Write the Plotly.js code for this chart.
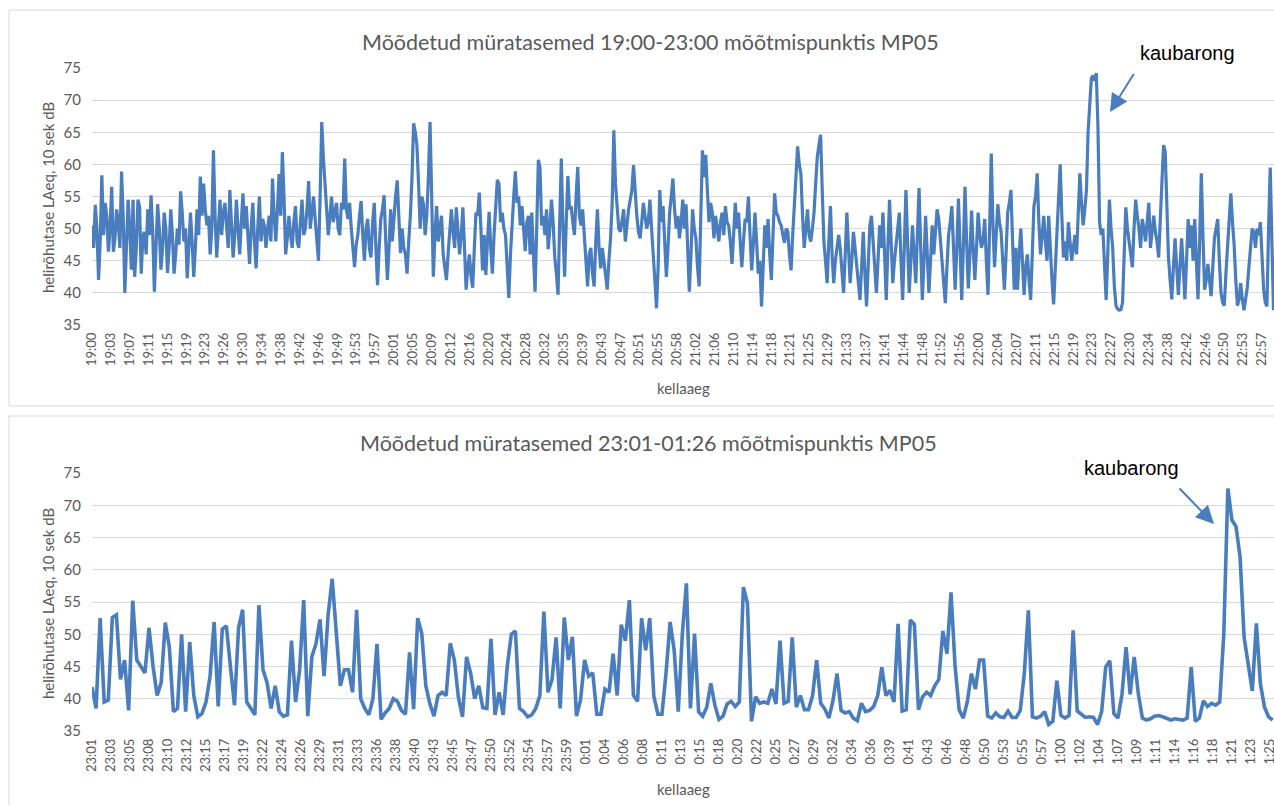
<!DOCTYPE html>
<html><head><meta charset="utf-8">
<script src="https://cdn.plot.ly/plotly-3.0.1.min.js"></script>
<style>html,body{margin:0;padding:0;background:#fff}#chart{width:1274px;height:805px}</style>
</head><body><div id="chart"></div>
<script>
const topTitle = 'Mõõdetud müratasemed 19:00-23:00 mõõtmispunktis MP05';
const bottomTitle = 'Mõõdetud müratasemed 23:01-01:26 mõõtmispunktis MP05';
const yTitleText = 'helirõhutase LAeq, 10 sek dB';
const xTitleText = 'kellaaeg';
const noteText = 'kaubarong';

const topTickLabels = ['19:00','19:03','19:07','19:11','19:15','19:19','19:23','19:26','19:30','19:34','19:38','19:42','19:46','19:49','19:53','19:57','20:01','20:05','20:09','20:12','20:16','20:20','20:24','20:28','20:32','20:35','20:39','20:43','20:47','20:51','20:55','20:58','21:02','21:06','21:10','21:14','21:18','21:21','21:25','21:29','21:33','21:37','21:41','21:44','21:48','21:52','21:56','22:00','22:04','22:07','22:11','22:15','22:19','22:23','22:27','22:30','22:34','22:38','22:42','22:46','22:50','22:53','22:57'];
const bottomTickLabels = ['23:01','23:03','23:05','23:08','23:10','23:12','23:15','23:17','23:19','23:22','23:24','23:26','23:29','23:31','23:33','23:36','23:38','23:40','23:43','23:45','23:47','23:50','23:52','23:54','23:57','23:59','0:01','0:04','0:06','0:08','0:11','0:13','0:15','0:18','0:20','0:22','0:25','0:27','0:29','0:32','0:34','0:36','0:39','0:41','0:43','0:46','0:48','0:50','0:53','0:55','0:57','1:00','1:02','1:04','1:07','1:09','1:11','1:14','1:16','1:18','1:21','1:23','1:25'];

// LAeq 10 s levels (dB), 19:00:00 - 23:00:00, readings at 0 s, 40 s, 80 s ...
const topLevels = [
50.5,53.7,42,58.3,54,46.4,56.5,48.5,51,58.9,
40,54.5,43.6,42.5,54.5,43,49.5,53,55.2,40.2,
53.8,43.6,52.5,43.1,53,43,50,55.8,48,42.3,
52.5,42.5,53,58.1,57,50.5,46,62.2,45.5,54.5,
52.5,50,56,45.5,54.5,46,55.5,53.5,44.5,54,
43.8,55,51.5,47,52,57.8,48,58.5,61.9,46,
52,47,53.5,47,54.5,50,57.4,53,51.5,45,
66.6,57.5,49,55,52.5,50,54,60.9,51.5,50,
44,49,54.3,45,51.5,45.5,54,41.2,51.5,55.2,
42,53,52.5,57.5,46.2,47,43,52,66.4,63,
50,53.8,52,66.6,42.5,53.5,50.3,46,42,50.5,
49.5,53.3,46,53.3,40.5,46,40.8,52.5,55.6,43.5,
42.8,52.6,43,54.3,57,52.5,49,39.2,51.5,58.9,
55,53.5,46.5,52,52.5,40.2,60.7,50.5,49,46.8,
54.5,45.5,39.7,60.9,42.5,58.2,53.5,49,59.6,50.5,
48.5,41,47,41,53,43.8,45,40.5,48.5,65.3,
53.5,49.5,53,51,54.5,59.9,52,48.5,54,50,
54.5,46.5,37.6,56,53.5,42.5,52.5,57.8,50,48.5,
54.5,53.8,40.2,53,48.5,41,62.2,61.5,51,52.5,
52,48,52.5,53.5,50.5,44.5,54,52.5,44,51.5,
55,43.5,52.5,43,37.9,50.5,51.5,42,55.5,52,
50.5,47.8,49.6,43.5,54,62.8,58.5,47,53,48,
52.5,61.2,64.6,48,41.5,53.5,41.5,47,46.8,40,
52.5,41.5,49.5,44.5,38.9,49.5,37.9,50.5,48,40,
50.5,52.5,38.9,54.5,41.5,47.5,52.5,38.9,56,40,
50.5,41.5,56.3,38.9,52,40,50.5,49,51.5,46,
38.4,49,53.5,40.5,54.7,38.9,56.5,40.7,52.8,42,
52.5,47,51.5,39.7,61.7,44,53.8,49.5,40.5,52.5,
56,40.5,40.5,50,39.7,46,38.9,53.5,58.6,46,
52,45,46.5,38.2,50,60,45.5,45,47.5,47,
46,58.6,50.5,56,70,73.8,74.2,51,50,38.9,
54.5,47,38,37.3,38.5,53.3,47.7,44,54.5,50,
51.5,48,54,49.7,49.5,45.5,58,62,45.5,39,
48.5,39.7,48.5,39,51.5,50.5,51.5,39,58.6,40.5,
44.5,39.5,48.5,51.5,40,38,47.5,55.5,47.5,38,
41.5,37.3,40.8,47.5,49.5,50,51,40.5,37.9,59.5,37.3
];
// readings in between, at 20 s, 60 s, 100 s ...
const topLevelsMid = [
47,50,48,49,52,50,46.4,53,47,52,
47,50,54.5,47,53.4,48.8,46,49,49.3,47,
50,47,50,47,49,46,47.5,52.4,50,47,
48,47,49,52,53,52,50,52,50,49,
54,47,51,49,50,51,50,49,50,48,
50,48,50.5,50,48,52,53,52,55,48.5,
49,51,48,51,49,53,50,55,48,55,
61,53,52,51,54,49,53,53,54,47,
47.5,52,49,50,47,51,47,47,53,48,
47,48,55,52,50,46,48,58,65,57,
55,49,58,55,49,48,52,44,46,53,
47,50,49,47,44,42.5,47,52,50,49,
48,47,49,57.6,51,50,45,46,55,54,
50.5,49,51,46,46,50,59.5,52,53,50,
51,43,51,50,51,53,51,55,52,53,
44,46,43,48,47,47,42.5,45,54,57,
50,51,48,53,56,55,49.5,51,52,51,
50,42,44,51,48,47,55,53,52,51,
50,47,46,50,44,52,58,56,54,48.5,
50,51,49,51,48,49,50,48,48,51,
49,47.5,48,45,44,47,46,49,52.5,51,
49,50,46,49,58,60,52,50,49,50,
57,63,56,45,48,46,45,49,43,46,
47,45,47,41,44,43,44,52,44,45,
47,46,47,48,45,50,45,47,48,45,
46,49,47,45,46,45,46,53,48,41,
44,51,47,47,47,47,48,46,47,47,
49,48,45,50,51,49,51,45,46,54,
48,47,46,45,44,42,46,55,51,49,
48,52,42,44,57,52,48,51,45,49,
52,54,53,65,73.4,73,66,49,44,46,
50,41,37.5,37.4,46,50,46,50,52,47,
50,51,47,52,48,52,63,55,42,44,
44,44,44,45,47,45,45,48,49,42,
42,44,50,45,38.5,43,52,51,42,39,
39,39,44,50,47,49,45,38.5,50,48
];

// LAeq 10 s levels (dB), read every 30 s, 23:01:00 - 01:26:00
const bottomLevels = [
41.8,38.5,52.5,39.5,39.8,52.6,53,43,46,38.2,
55.2,46,45,44,51,45,40.5,42.5,51.8,48,
38,38.5,50,38,48.8,40.5,37.2,37.7,39.5,43.5,
51.9,38.8,50.8,51.3,45,39,51,53.8,39.5,38.5,
37.5,54.5,44.5,42.5,38.5,42,38,37.3,37.5,49,
39.5,44.5,55.3,37.3,46.5,48.5,52.3,43.5,53,58.6,
50.6,42,44.5,44.5,41,53.8,40,38.5,37.5,40,
48.5,36.8,37.8,38.5,40,39.6,38.2,37.6,47.2,38.4,
52.5,50.1,42,39.2,37.3,40.5,41,40.5,48.6,46,
40.2,37.2,46.5,44,40,42,38.6,38.5,49.3,37.5,
41,37.5,45,50,50.5,38.5,38,37.2,37.5,38.5,
40.5,53.5,41,43,49.5,38.5,52.6,46,49.6,37.3,
39.8,46,43.5,44,37.6,37.6,41.5,41,47,40.5,
51.5,49,55.3,40.5,39.6,52.5,47.5,52.5,40.4,37.6,
37.6,44,51.9,47.5,38,50,57.9,38.5,50.1,38,
37.3,38.7,42.4,39,36.8,37.3,39.2,39.6,38.8,39.5,
57.3,54.8,36.5,40.3,39.3,39.5,39.3,41.5,39.2,49,
39.3,39.6,49.5,38.7,40.5,38.3,38.3,40.5,46,39.3,
38.4,37,39.7,43.9,38.2,37.8,38,37,36.6,39.3,
38,38.2,38.8,40.5,44.9,40.5,41.3,39.5,51.6,38.1,
38.3,52.2,51.5,38.3,40.3,41,40.5,42,43,50.5,
47,56.5,45,38.3,37,39.5,43.9,41.5,46,46,
37.3,37,37.8,37.2,37.1,38.1,37.1,37.1,38.2,43.9,
53.7,37.2,37,37.3,38,36,36.5,42.8,37.4,37,
37.4,50.6,38.1,37.6,37.1,37.2,37.1,36,38,44.9,
45.9,37.7,37,40.7,48,40.7,46.5,40.8,37,36.7,
36.9,37.3,37.4,37.2,37,36.7,36.9,36.8,36.7,37,
44.9,36.5,37,39.7,38.8,39.3,39,39.5,50,72.6,
67.7,66.7,62,49.5,45,41.2,51.7,42.3,38.7,37.2,36.7
];

const topStep = 4;        // 10-s readings between values of topLevels
const topMidOffset = 2;   // topLevelsMid sits halfway
const bottomStep = 3;
const topTickEvery = 23;  // 10-s readings between category labels
const bottomTickEvery = 14;

const W = 1274, H = 805;
const px = x => x / W;
const py = y => 1 - y / H;
const FONT = 'Lato, "Open Sans", sans-serif';
const GREY = '#595959';
const BLUE = '#4a7dbd';

// merge the two top reading sets in time order
const topX = [], topY = [];
topLevels.forEach((v, i) => {
  topX.push(i * topStep); topY.push(v);
  if (i < topLevelsMid.length) { topX.push(i * topStep + topMidOffset); topY.push(topLevelsMid[i]); }
});
const bottomX = bottomLevels.map((v, i) => i * bottomStep);

const traces = [
  {x: topX, y: topY, type: 'scatter', mode: 'lines', xaxis: 'x', yaxis: 'y',
   line: {color: BLUE, width: 3.2}, hoverinfo: 'skip'},
  {x: bottomX, y: bottomLevels, type: 'scatter', mode: 'lines', xaxis: 'x2', yaxis: 'y2',
   line: {color: BLUE, width: 3.6}, hoverinfo: 'skip'}
];

function xAxis(labels, every, maxX, anchor) {
  return {
    domain: [px(92), 1], range: [0, maxX], anchor: anchor,
    tickmode: 'array', tickvals: labels.map((t, j) => j * every), ticktext: labels,
    tickangle: -90, showgrid: false, zeroline: false, showline: false, ticks: '',
    tickfont: {family: FONT, size: 13, color: GREY}, ticklabelstandoff: 4,
    ticklabeloverflow: 'allow'
  };
}
function yAxis(top, bottom, anchor) {
  return {
    domain: [py(bottom), py(top)], range: [35, 75], anchor: anchor,
    tickmode: 'linear', tick0: 35, dtick: 5, showgrid: true, gridcolor: '#d9d9d9', gridwidth: 1,
    zeroline: false, showline: false, ticks: '',
    tickfont: {family: FONT, size: 15, color: GREY}, ticklabelstandoff: 10
  };
}

const ann = [];
function text(t, x, y, size, color, family, angle) {
  ann.push({text: t, x: px(x), y: py(y), xref: 'paper', yref: 'paper', showarrow: false,
    xanchor: 'center', yanchor: 'middle', textangle: angle || 0,
    font: {family: family || FONT, size: size, color: color || GREY}});
}
function arrow(tipX, tipY, tailX, tailY) {
  ann.push({text: ' ', x: px(tipX), y: py(tipY), xref: 'paper', yref: 'paper',
    showarrow: true, ax: tailX - tipX, ay: tailY - tipY, arrowhead: 2, arrowsize: 1.8,
    arrowwidth: 2, arrowcolor: BLUE, standoff: 0, startstandoff: 0, font: {size: 1}});
}
const NOTE_FONT = '"Liberation Sans", Arial, sans-serif';
text(topTitle, 650, 42, 21.5);
text(bottomTitle, 648, 443, 21.5);
text(yTitleText, 48, 197, 15, GREY, FONT, -90);
text(yTitleText, 48, 603, 15, GREY, FONT, -90);
text(xTitleText, 683, 388, 15);
text(xTitleText, 683, 789, 15);
text(noteText, 1187, 53, 20, '#000', NOTE_FONT);
text(noteText, 1131, 468, 20, '#000', NOTE_FONT);
arrow(1110, 112, 1135, 72);
arrow(1214, 524, 1178, 487);

const layout = {
  width: W, height: H, margin: {l: 0, r: 0, t: 0, b: 0}, showlegend: false,
  paper_bgcolor: '#fff', plot_bgcolor: '#fff',
  xaxis: xAxis(topTickLabels, topTickEvery, 1440.6, 'y'),
  yaxis: yAxis(68, 325, 'x'),
  xaxis2: xAxis(bottomTickLabels, bottomTickEvery, 871, 'y2'),
  yaxis2: yAxis(473, 731, 'x2'),
  annotations: ann,
  shapes: [
    {type: 'rect', xref: 'paper', yref: 'paper', x0: px(9), x1: px(1300), y0: py(406), y1: py(10),
     line: {color: '#d9d9d9', width: 1}, fillcolor: 'rgba(0,0,0,0)', layer: 'below'},
    {type: 'rect', xref: 'paper', yref: 'paper', x0: px(9), x1: px(1300), y0: py(830), y1: py(416),
     line: {color: '#d9d9d9', width: 1}, fillcolor: 'rgba(0,0,0,0)', layer: 'below'}
  ]
};
Plotly.newPlot('chart', traces, layout, {displayModeBar: false, staticPlot: true});
</script></body></html>
